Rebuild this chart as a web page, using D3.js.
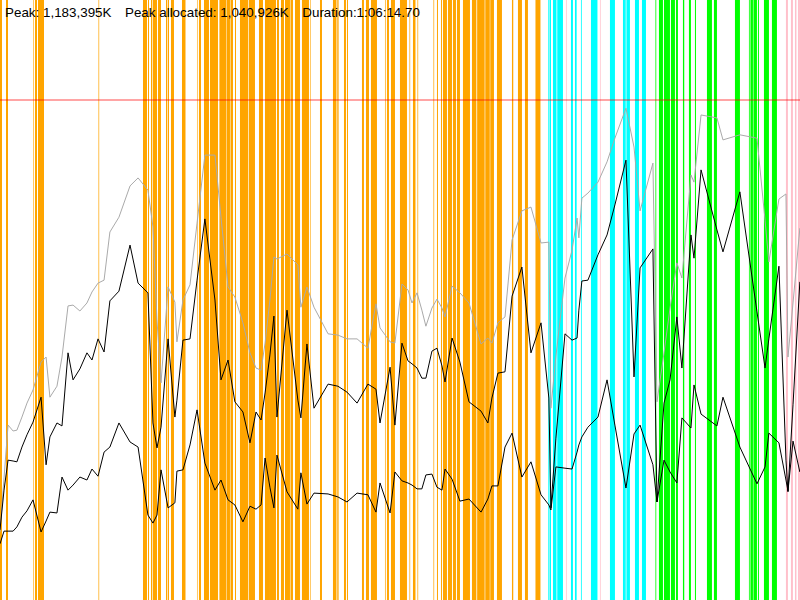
<!DOCTYPE html>
<html>
<head>
<meta charset="utf-8">
<script src="https://cdn.jsdelivr.net/npm/d3@7"></script>
<style>
    html, body { margin: 0; padding: 0; background: #fff; }
    svg { display: block; }
</style>
</head>
<body>
<div id="chart"></div>
<script>

// Header figures (K) and run length (seconds)
let PEAK_K = 1183395,
    PEAK_ALLOCATED_K = 1040926,
    DURATION_S = 3974.7,
    DURATION_LABEL = "1:06:14.70";

// GC sample times (s) and heap sizes (thousand K)
let gcTimes = [
    0, 20, 40, 65, 84, 109, 134, 164, 204, 229, 248, 283, 308, 338, 363, 397, 432, 457, 487, 517,
    546, 591, 646, 686, 735, 760, 780, 800, 835, 869, 879, 909, 944, 979, 1018, 1068, 1098, 1133, 1167, 1207,
    1242, 1272, 1297, 1317, 1341, 1361, 1376, 1426, 1480, 1495, 1525, 1560, 1630, 1679, 1724, 1774, 1828, 1868, 1888, 1938,
    1962, 1997, 2027, 2047, 2072, 2096, 2116, 2146, 2171, 2196, 2211, 2246, 2285, 2330, 2390, 2424, 2444, 2474, 2509, 2544,
    2593, 2638, 2688, 2727, 2737, 2762, 2807, 2842, 2867, 2876, 2891, 2921, 2971, 3016, 3055, 3110, 3150, 3180, 3244, 3264,
    3299, 3329, 3363, 3388, 3433, 3448, 3483, 3562, 3592, 3676, 3761, 3801, 3820, 3870, 3905, 3915, 3940, 3974
];

let heapCommitted = [
    161, 289, 414, 400, 402, 433, 466, 497, 563, 575, 480, 506, 575, 696, 698, 684, 703, 729, 750, 757,
    871, 906, 980, 999, 970, 883, 663, 514, 741, 705, 611, 710, 746, 892, 1053, 1053, 906, 741, 717, 656,
    585, 549, 544, 608, 710, 812, 807, 819, 793, 693, 741, 693, 630, 627, 618, 618, 596, 701, 644, 611,
    608, 748, 734, 703, 727, 686, 648, 691, 712, 691, 670, 743, 727, 703, 606, 620, 608, 656, 670, 852,
    921, 930, 845, 847, 454, 577, 762, 828, 904, 857, 951, 963, 989, 1037, 1093, 1164, 1072, 921, 1034, 469,
    585, 691, 798, 762, 1006, 989, 1148, 1141, 1089, 1101, 1093, 899, 800, 949, 961, 575, 703, 880
];

let heapBefore = [
    166, 260, 331, 329, 327, 362, 391, 421, 480, 320, 386, 419, 412, 585, 521, 547, 585, 568, 618, 587,
    708, 731, 840, 750, 727, 419, 360, 409, 618, 433, 473, 615, 618, 757, 902, 710, 521, 568, 469, 445,
    372, 445, 426, 490, 580, 672, 433, 686, 473, 431, 606, 454, 511, 506, 492, 466, 511, 499, 419, 551,
    414, 608, 566, 559, 549, 525, 525, 589, 596, 554, 516, 620, 563, 469, 447, 419, 478, 537, 540, 719,
    788, 585, 656, 478, 218, 383, 630, 615, 620, 686, 755, 757, 817, 864, 935, 1041, 528, 786, 831, 232,
    466, 521, 670, 549, 864, 809, 1018, 876, 824, 966, 682, 549, 618, 790, 331, 256, 462, 753
];

let heapAfter = [
    133, 163, 163, 163, 173, 196, 211, 237, 161, 187, 208, 206, 291, 260, 272, 291, 284, 310, 293, 350,
    362, 419, 374, 362, 201, 182, 201, 308, 218, 230, 305, 308, 367, 450, 324, 260, 284, 237, 225, 185,
    222, 215, 225, 336, 267, 218, 343, 256, 215, 301, 227, 253, 251, 244, 232, 253, 249, 208, 277, 206,
    303, 282, 277, 272, 263, 263, 296, 298, 267, 260, 310, 286, 234, 239, 208, 239, 270, 270, 362, 395,
    291, 327, 249, 225, 213, 315, 312, 310, 350, 367, 386, 409, 433, 521, 414, 265, 393, 414, 320, 232,
    331, 303, 277, 431, 407, 509, 440, 412, 480, 362, 275, 315, 395, 372, 284, 258, 376, 303
];

// GC pause events: start (s), length (s), kind
let pauseStart = [
    0, 29.8, 165.4, 173.9, 188.8, 489.3, 710.4, 735.3, 750.2, 760.1, 785.0, 824.7, 834.6, 849.5, 904.2,
    978.7, 988.6, 1013.5, 1028.4, 1043.3, 1088.0, 1093.0, 1127.7, 1145.1, 1167.5, 1192.3, 1227.1, 1237.0,
    1286.7, 1316.5, 1341.4, 1376.1, 1396.0, 1415.9, 1443.2, 1465.6, 1500.3, 1540.1, 1589.8, 1654.3, 1675.7,
    1709.0, 1723.9, 1798.4, 1818.3, 1843.1, 1912.7, 1922.6, 1942.5, 1987.2, 2034.4, 2051.8, 2074.1, 2153.6,
    2171.0, 2190.9, 2200.8, 2225.7, 2250.5, 2270.4, 2300.2, 2344.9, 2370.7, 2411.0, 2435.8, 2469.1, 2543.6,
    2573.4, 2608.2, 2660.4,
    2724.0, 2730.0, 2747.3, 2768.7, 2836.7, 2856.6, 2886.4, 2936.1, 3030.5, 3095.1, 3106.5, 3112.4, 3154.7, 3189.5,
    2811.9, 2980.8,
    3256.5, 3273.9, 3298.8, 3333.5, 3358.4, 3393.1, 3422.9, 3452.8, 3512.4, 3547.2, 3651.5, 3721.0, 3728.5,
    3743.4, 3765.7, 3795.6, 3835.3,
    3904.8, 3929.7, 3949.6, 3964.5
];

let pauseLength = [
    9.9, 9.9, 3.0, 9.9, 29.8, 3.5, 19.9, 5.0, 6.5, 19.9, 14.9, 6.5, 5.0, 14.9, 17.4,
    3.0, 9.9, 14.9, 9.9, 39.7, 3.0, 32.3, 14.9, 12.4, 5.0, 34.8, 6.5, 29.8,
    19.9, 24.8, 29.8, 9.9, 14.9, 24.8, 12.4, 24.8, 34.8, 3.0, 9.9, 17.4, 6.5,
    9.9, 5.0, 9.9, 14.9, 29.8, 3.5, 9.9, 19.9, 34.8, 3.5, 12.4, 3.5, 3.5,
    5.0, 5.0, 19.9, 19.9, 14.9, 14.9, 34.8, 21.9, 37.3, 22.4, 18.4, 24.8, 6.5,
    19.9, 14.9, 24.8,
    3.5, 7.5, 17.4, 28.3, 9.9, 8.4, 4.0, 32.3, 24.8, 9.9, 3.5, 17.4, 19.9, 19.9,
    3.5, 3.5,
    4.0, 19.9, 29.8, 19.9, 9.9, 6.5, 9.9, 5.0, 24.8, 14.9, 24.8, 4.0, 12.4,
    17.4, 5.0, 24.8, 24.8,
    9.9, 9.9, 7.5, 9.9
];

let pauseKind = [].concat(
    Array(70).fill("young"),
    Array(14).fill("concurrent"),
    Array(2).fill("full"),
    Array(17).fill("mixed"),
    Array(4).fill("full")
);

let kindColors = {
    young: "#FFA500",
    concurrent: "#00FFFF",
    mixed: "#00FF00",
    full: "#FFC0CB"
};

let WIDTH = 800,
    HEIGHT = 600,
    Y_TOP = PEAK_K / 1000 * 1.2;

let svg = d3.select("#chart")
    .append("svg")
    .attr("width", WIDTH)
    .attr("height", HEIGHT);

let x = d3.scaleLinear().domain([0, DURATION_S]).range([0, WIDTH]);
let y = d3.scaleLinear().domain([0, Y_TOP]).range([HEIGHT, 0]);

// Pause bands, full height
svg.append("g")
    .selectAll("rect")
    .data(d3.range(pauseStart.length))
    .enter()
    .append("rect")
    .attr("x", i => x(pauseStart[i]))
    .attr("y", 0)
    .attr("width", i => x(pauseLength[i]) - x(0))
    .attr("height", HEIGHT)
    .attr("fill", i => kindColors[pauseKind[i]]);

// Peak marker
svg.append("line")
    .attr("x1", 0)
    .attr("x2", WIDTH)
    .attr("y1", y(PEAK_K / 1000))
    .attr("y2", y(PEAK_K / 1000))
    .attr("stroke", "#FF0000")
    .attr("stroke-opacity", 0.7)
    .attr("stroke-width", 1.2);

let lineOf = values => d3.line()
    .x((d, i) => x(gcTimes[i]))
    .y(d => y(d))(values);

svg.append("path")
    .attr("d", lineOf(heapCommitted))
    .attr("fill", "none")
    .attr("stroke", "#AAAAAA")
    .attr("stroke-width", 1);

[heapBefore, heapAfter].forEach(values => {
    svg.append("path")
        .attr("d", lineOf(values))
        .attr("fill", "none")
        .attr("stroke", "#000")
        .attr("stroke-width", 1);
});

// Header text
let fmt = d3.format(",");
let labels = [
    "Peak: " + fmt(PEAK_K) + "K",
    "Peak allocated: " + fmt(PEAK_ALLOCATED_K) + "K",
    "Duration:" + DURATION_LABEL
];

let tx = 5;
labels.forEach(s => {
    let t = svg.append("text")
        .attr("x", tx)
        .attr("y", 17)
        .attr("font-family", "'Liberation Sans', Arial, sans-serif")
        .attr("font-size", "13.4px")
        .attr("fill", "#000")
        .text(s);
    tx += t.node().getComputedTextLength() + 13.5;
});

</script>
</body>
</html>
